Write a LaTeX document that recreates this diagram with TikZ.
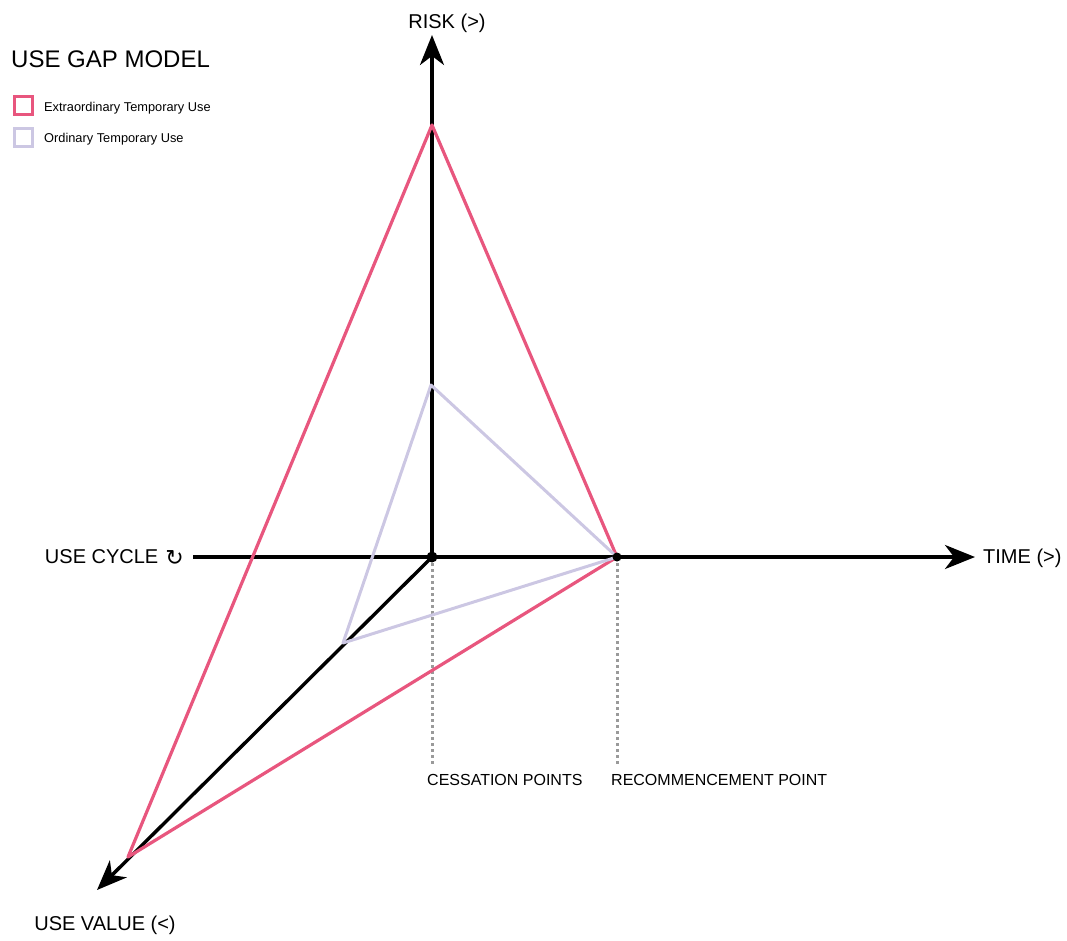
\documentclass[tikz,border=0pt]{standalone}
\usepackage{fontspec}
\setmainfont{Liberation Sans}
\newfontfamily\dvsans{DejaVu Sans}
\usetikzlibrary{arrows.meta}
\definecolor{redline}{HTML}{E8567E}
\definecolor{lavline}{HTML}{CCC7E3}
\definecolor{dotgray}{HTML}{9A9A9A}
\tikzset{
  axis/.style={line width=3.4pt, black, -{Stealth[length=30pt,width=24pt,inset=9pt]}},
  redtri/.style={line width=3.2pt, redline, line join=round},
  lavtri/.style={line width=3pt, lavline, line join=round},
  guide/.style={line width=3pt, dotgray, dash pattern=on 3pt off 3pt},
  axislabel/.style={font=\fontsize{20}{24}\selectfont, inner sep=0pt},
  pointlabel/.style={font=\fontsize{16}{19}\selectfont, inner sep=0pt, anchor=base west},
  legendtext/.style={font=\fontsize{12.8}{15}\selectfont, inner sep=0pt, anchor=base west},
  legendbox/.style={line width=3pt, minimum size=18pt, inner sep=0pt, fill=white},
  titletext/.style={font=\fontsize{24}{28}\selectfont, inner sep=0pt, anchor=base west},
  dotnode/.style={circle, fill=black, inner sep=0pt},
}
\begin{document}
\begin{tikzpicture}[x=1pt,y=-1pt]
\useasboundingbox (0,0) rectangle (1067,940);
% key points
\coordinate (O) at (432,557);
\coordinate (riskend) at (432,35);
\coordinate (cycstart) at (193,557);
\coordinate (timeend) at (975,557);
\coordinate (valueend) at (97,890);
\coordinate (redtop) at (432,125);
\coordinate (rec) at (617,557);
\coordinate (redleft) at (128,857);
\coordinate (lavtop) at (431,385);
\coordinate (lavleft) at (343,643);
\coordinate (cessend) at (432,766);
\coordinate (recend) at (617,766);

% guides
\draw[guide] (O) -- (cessend);
\draw[guide] (rec) -- (recend);

% axes
\draw[axis] (O) -- (riskend);
\draw[axis] (cycstart) -- (timeend);
\draw[axis] (O) -- (valueend);

% triangles
\draw[redtri] (redtop) -- (redleft) -- (rec) -- cycle;
\draw[lavtri] (lavtop) -- (lavleft) -- (rec) -- cycle;

% dots
\node[dotnode, minimum size=11pt] (origindot) at (O) {};
\node[dotnode, minimum size=9pt] (recdot) at (rec) {};

% axis labels
\node[axislabel, anchor=base] (risk) at (447,28) {RISK (>)};
\node[axislabel, anchor=base west] (time) at (983,563) {TIME (>)};
\node[axislabel, anchor=base east] (cycle) at (184,563) {USE CYCLE\hspace{7pt}\raisebox{-2.5pt}{\dvsans\fontsize{22}{26}\selectfont ↻}};
\node[axislabel, anchor=base] (value) at (105,930) {USE VALUE (<)};

% point labels
\node[pointlabel] (cess) at (427,785) {CESSATION POINTS};
\node[pointlabel] (recl) at (611,785) {RECOMMENCEMENT POINT};

% legend
\node[titletext] (title) at (11,67) {USE GAP MODEL};
\node[legendbox, draw=redline] (boxred) at (23.5,105.5) {};
\node[legendbox, draw=lavline] (boxlav) at (23.5,137.5) {};
\node[legendtext] (ltred) at (44,111) {Extraordinary Temporary Use};
\node[legendtext] (ltlav) at (44,142) {Ordinary Temporary Use};
\end{tikzpicture}
\end{document}
